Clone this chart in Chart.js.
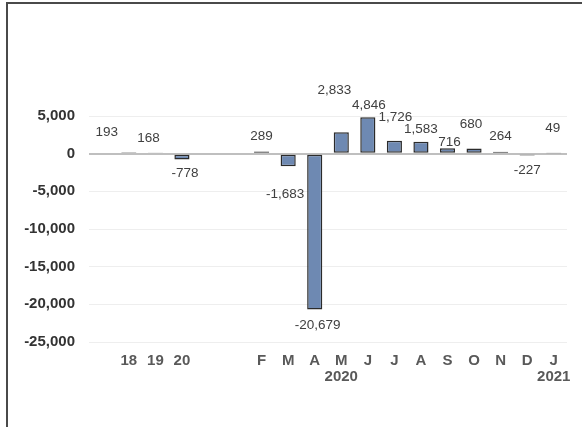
<!DOCTYPE html>
<html>
<head>
<meta charset="utf-8">
<script src="https://cdn.jsdelivr.net/npm/chart.js@4"></script>
<style>
  html,body{margin:0;padding:0;background:#fff;overflow:hidden;}
  canvas{display:block;}
</style>
</head>
<body>
<canvas id="c" width="582" height="427"></canvas>
<script>
// categories: years, then months Feb 2020 - Jan 2021 (blank slots are gaps)
const categories = ['', '18', '19', '20', '', '', 'F', 'M', 'A', 'M', 'J', 'J', 'A', 'S', 'O', 'N', 'D', 'J'];
const yearLabels = ['', '', '', '', '', '', '', '', '', '2020', '', '', '', '', '', '', '', '2021'];
const values = [null, 193, 168, -778, null, null, 289, -1683, -20679, 2833, 4846, 1726, 1583, 716, 680, 264, -227, 49];
const yTicks = [5000, 0, -5000, -10000, -15000, -20000, -25000];

// hand-placed label nudges (px away from bar end, px sideways) like the original
const labelAway = [0, 20, 14, 14, 0, 0, 15, 28, 16, 42, 12, 23, 12, 6, 24, 15, 15, 25];
const labelSide = [0, -22, -7, 3, 0, 0, 0, -3, 3, -7, 1, 1, 0, 2, -3, 0, 0, -1];

const FONT = '"Liberation Sans", Arial, sans-serif';
const fmt = v => v.toLocaleString('en-US');

const tickLabels = categories.map((c,i)=> yearLabels[i] ? [c, yearLabels[i]] : c);

// top + left frame line only (the picture is cropped on the other sides)
const frame = {
  id:'frame',
  beforeDraw(chart){
    const ctx = chart.ctx;
    ctx.save();
    ctx.strokeStyle = '#4a4a4a';
    ctx.lineWidth = 2;
    ctx.beginPath();
    ctx.moveTo(7, chart.height);
    ctx.lineTo(7, 3);
    ctx.lineTo(chart.width, 3);
    ctx.stroke();
    ctx.restore();
  }
};

const valueLabels = {
  id:'valueLabels',
  afterDatasetsDraw(chart){
    const ctx = chart.ctx;
    const meta = chart.getDatasetMeta(0);
    ctx.save();
    ctx.font = '13.5px ' + FONT;
    ctx.fillStyle = '#404040';
    ctx.textAlign = 'center';
    ctx.textBaseline = 'middle';
    meta.data.forEach((bar,i)=>{
      const v = values[i];
      if(v === null) return;
      const dir = v >= 0 ? -1 : 1;
      ctx.fillText(fmt(v), bar.x + labelSide[i], bar.y + dir*labelAway[i]);
    });
    ctx.restore();
  }
};

new Chart(document.getElementById('c'), {
  type:'bar',
  data:{
    labels: tickLabels,
    datasets:[{
      data: values,
      backgroundColor:'#6e89b2',
      borderColor:'#2b2b2b',
      borderWidth:1.5,
      borderSkipped:false,
      categoryPercentage:1,
      barPercentage:0.57
    }]
  },
  options:{
    responsive:false,
    animation:false,
    layout:{padding:{top:116,right:15,left:0,bottom:0}},
    plugins:{legend:{display:false},tooltip:{enabled:false}},
    scales:{
      x:{
        grid:{display:false},
        border:{display:false},
        ticks:{
          autoSkip:false, maxRotation:0, padding:3,
          color:'#595959',
          font:{family:FONT, size:15, weight:'bold', lineHeight:1.07}
        },
        afterFit(s){ s.height = 85; }
      },
      y:{
        min:-25000, max:5000,
        afterBuildTicks(s){ s.ticks = yTicks.map(v=>({value:v})); },
        grid:{
          drawTicks:false,
          color: c => c.tick && c.tick.value === 0 ? '#bfbfbf' : '#eeeeee',
          lineWidth: c => c.tick && c.tick.value === 0 ? 2 : 1
        },
        border:{display:false},
        ticks:{
          padding:14,
          color:'#333333',
          font:{family:FONT, size:15, weight:'bold'},
          callback: v => fmt(v)
        },
        afterFit(s){ s.width = 89; }
      }
    }
  },
  plugins:[frame, valueLabels]
});
</script>
</body>
</html>
